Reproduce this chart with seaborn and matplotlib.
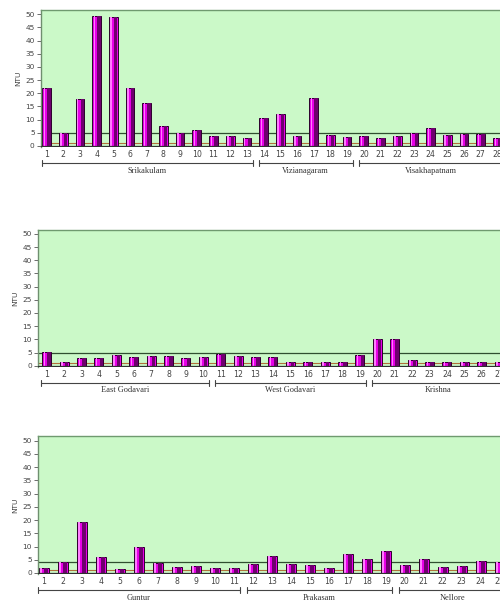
import numpy as np
import pandas as pd
import matplotlib
matplotlib.use("Agg")
import matplotlib.pyplot as plt
import seaborn as sns
from matplotlib.transforms import blended_transform_factory

sns.set_theme(style="white")
plt.rcParams["font.family"] = ["DejaVu Sans"]

# ---------------- data ----------------
p1_values = [22, 5, 18, 49.5, 49, 22, 16.5, 7.5, 5, 6, 3.8, 3.7, 3.2, 10.7,
             12.2, 3.7, 18.2, 4, 3.4, 3.8, 3.2, 3.8, 5, 7, 4, 4.4, 4.4, 3]
p1_groups = [("Srikakulam", 1, 13), ("Vizianagaram", 14, 19), ("Visakhapatnam", 20, 28)]

p2_values = [5.1, 1.5, 3, 2.8, 4, 3.2, 3.7, 3.8, 3, 3.2, 4.3, 3.8, 3.2, 3.4,
             1.5, 1.5, 1.3, 1.5, 4, 10.1, 10.1, 2.2, 1.3, 1.3, 1.3, 1.3, 1.5]
p2_groups = [("East Godavari", 1, 10), ("West Godavari", 11, 19), ("Krishna", 20, 27)]

p3_values = [1.9, 4.1, 19.2, 6, 1.6, 9.8, 3.8, 2.1, 2.8, 1.9, 1.9, 3.5, 6.3,
             3.4, 2.9, 1.9, 7.2, 5.4, 8.2, 2.9, 5.3, 2.3, 2.8, 4.4, 4]
p3_groups = [("Guntur", 1, 11), ("Prakasam", 12, 19), ("Nellore", 20, 25)]

thresholds = [5, 5, 4]
y_ticks = list(range(0, 51, 5))
y_label = "NTU"

# ---------------- layout ----------------
W, H = 500, 608
fig = plt.figure(figsize=(W / 100, H / 100), dpi=100)
fig.patch.set_facecolor("white")

panels = [
    dict(values=p1_values, groups=p1_groups, rect=[41, 10.3, 459, 137.0], x0=-0.33, step=16.7,
         ylim=(-0.5, 51.5)),
    dict(values=p2_values, groups=p2_groups, rect=[38, 230, 462, 137.0], x0=-0.5, step=17.4,
         ylim=(-0.5, 51.5)),
    dict(values=p3_values, groups=p3_groups, rect=[38, 436, 462, 138.3], x0=-0.3, step=19.0,
         ylim=(-0.5, 51.8)),
]

green = "#cbf9c8"
magenta = "#e800e8"
dark = "#6e006e"

for k, p in enumerate(panels):
    lx, ty, pw, ph = p["rect"]
    ax = fig.add_axes([lx / W, 1 - (ty + ph) / H, pw / W, ph / H])
    vals = p["values"]
    n = len(vals)
    labels = [str(i + 1) for i in range(n)]
    df = pd.DataFrame({"station": labels, "ntu": vals})

    ax.set_facecolor(green)
    ax.axhline(thresholds[k], color="#2f4f2f", lw=0.9, zorder=0.6)
    ax.axhline(1.2, color="#b0703a", lw=0.8, zorder=0.6)

    sns.barplot(data=df, x="station", y="ntu", ax=ax, color=magenta, saturation=1,
                width=0.52, edgecolor="#2a002a", linewidth=0.7, zorder=2)
    idx = np.arange(n)
    ax.bar(idx + 0.14, vals, width=0.2, color=dark, linewidth=0, zorder=2.5)
    ax.bar(idx - 0.13, vals, width=0.08, color="#ff7dff", linewidth=0, zorder=2.5)
    ax.axhline(0, color="#303030", lw=0.9, zorder=3)

    right = p["x0"] + pw / p["step"]
    ax.set_xlim(p["x0"], right)
    ax.set_ylim(*p["ylim"])
    ax.set_yticks(y_ticks)
    ax.set_yticklabels([str(t) for t in y_ticks], fontsize=5.3, color="#444444")
    ax.set_xticks(idx)
    ax.set_xticklabels(labels, fontsize=5.6, color="#444444")
    ax.tick_params(axis="x", length=0, pad=2)
    ax.tick_params(axis="y", length=3, width=0.6, color="#555555", pad=1.5, left=True)
    ax.set_xlabel("")
    ax.set_ylabel(y_label, fontsize=5.3, color="#444444", labelpad=3)

    ax.spines["right"].set_visible(False)
    ax.spines["top"].set_color("#6f9a6f")
    ax.spines["top"].set_linewidth(1.0)
    ax.spines["left"].set_color("#6f8f6f")
    ax.spines["left"].set_linewidth(1.0)
    ax.spines["bottom"].set_visible(False)

    # group brackets below the axis
    tr = blended_transform_factory(ax.transData, ax.transAxes)
    off_line = 15.5 / ph
    off_text = 23.5 / ph
    tick_h = 3.0 / ph
    for name, a, b in p["groups"]:
        xa, xb = a - 1 - 0.3, b - 1 + 0.35
        ax.plot([xa, xb], [-off_line, -off_line], color="#444444", lw=0.8,
                transform=tr, clip_on=False)
        for xe in (xa, xb):
            ax.plot([xe, xe], [-off_line - tick_h, -off_line + tick_h], color="#444444",
                    lw=0.8, transform=tr, clip_on=False)
        ax.text((a + b) / 2 - 1, -off_text, name, transform=tr, ha="center", va="center",
                fontsize=6, family=["Liberation Serif"], color="#333333")

fig.savefig("out.png", dpi=100, facecolor="white")
